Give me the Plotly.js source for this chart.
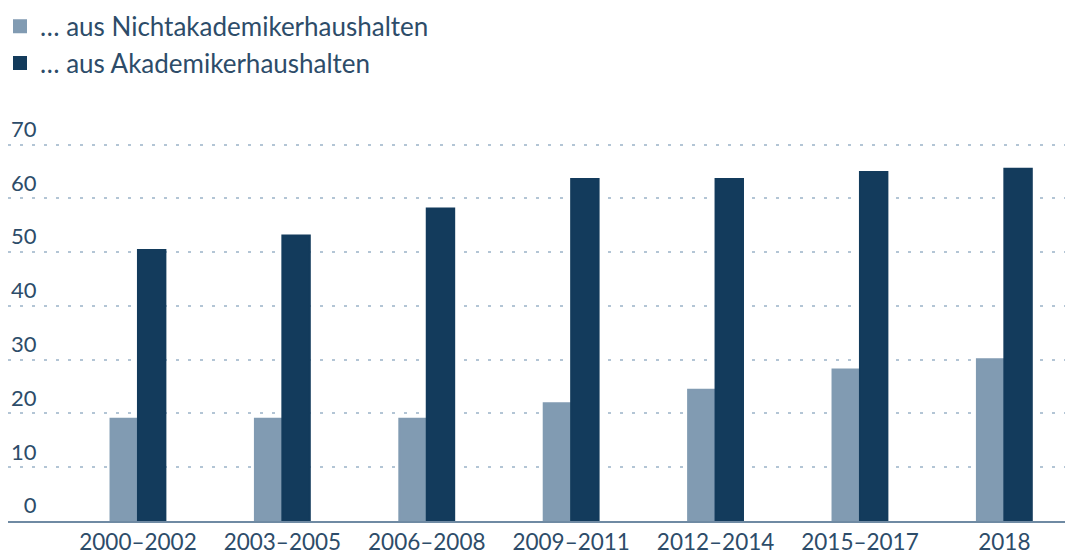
<!DOCTYPE html>
<html>
<head>
<meta charset="utf-8">
<script src="https://cdn.plot.ly/plotly-3.0.1.min.js"></script>
<style>html,body{margin:0;padding:0;background:#fff;}#chart{width:1067px;height:557px;}</style>
</head>
<body>
<div id="chart"></div>
<script>
const categories = ["2000–2002","2003–2005","2006–2008","2009–2011","2012–2014","2015–2017","2018"];
const nichtakademiker = [19.0, 19.0, 19.0, 21.9, 24.4, 28.2, 30.1];
const akademiker = [50.4, 53.1, 58.1, 63.6, 63.6, 64.9, 65.5];
const seriesNames = ["… aus Nichtakademikerhaushalten", "… aus Akademikerhaushalten"];
const yTicks = [0, 10, 20, 30, 40, 50, 60, 70];

const textColor = "#2d4c69";
const fontFamily = "Lato, 'Noto Sans', sans-serif";
const lightColor = "#819bb2";
const darkColor = "#133b5c";

const traces = [
  {type:"bar", name:seriesNames[0], x:categories, y:nichtakademiker, legendgroup:"a",
   marker:{color:lightColor, line:{width:2, color:lightColor}}, hoverinfo:"skip"},
  {type:"bar", name:seriesNames[1], x:categories, y:akademiker, legendgroup:"b",
   marker:{color:darkColor, line:{width:2, color:darkColor}}, hoverinfo:"skip"}
];

const layout = {
  width:1067, height:557,
  margin:{l:8, r:2, t:107, b:36, autoexpand:false},
  paper_bgcolor:"#fff", plot_bgcolor:"#fff",
  font:{family:fontFamily, color:textColor, size:22},
  barmode:"group", bargap:0.62, bargroupgap:0,
  showlegend:true,
  legend:{orientation:"v", x:0, xref:"container", y:0.995, yref:"container", yanchor:"top",
          xanchor:"left", font:{size:26, color:textColor}, traceorder:"grouped",
          itemwidth:30, tracegroupgap:0, bgcolor:"rgba(0,0,0,0)"},
  xaxis:{type:"category", range:[-0.9, 6.42], showgrid:false, zeroline:false,
         showline:true, linecolor:"#6f8aa3", linewidth:2, tickangle:0,
         ticks:"", tickfont:{size:22.5, color:textColor}, fixedrange:true},
  yaxis:{range:[0, 77], tickvals:yTicks, ticktext:yTicks.map(v => v < 10 ? "\u2007" + v : String(v)),
         ticklabelposition:"inside top", showgrid:true, gridcolor:"#b3c5d5", gridwidth:2,
         griddash:"3px,9px", zeroline:false, showline:false, ticks:"",
         tickfont:{size:22, color:textColor}, fixedrange:true}
};

Plotly.newPlot("chart", traces, layout, {displayModeBar:false, staticPlot:true});
</script>
</body>
</html>
